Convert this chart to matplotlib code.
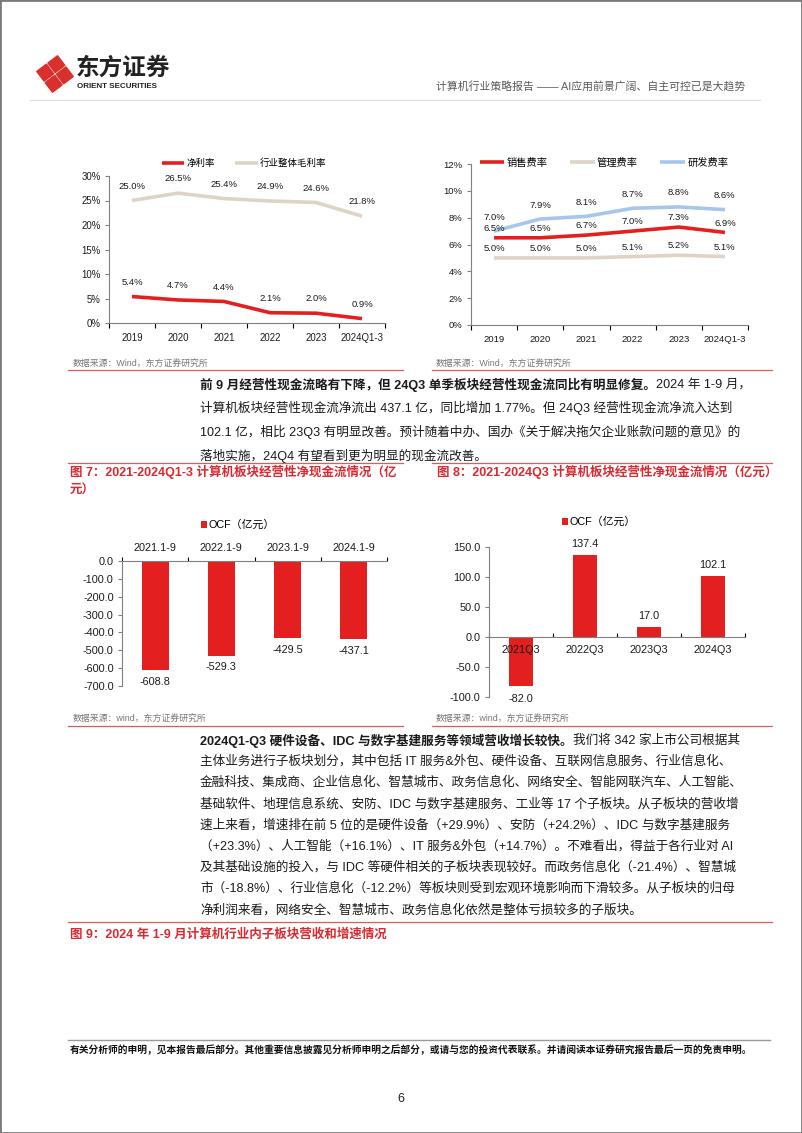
import numpy as np
import matplotlib
matplotlib.use('Agg')
import matplotlib.pyplot as plt
from matplotlib.patches import Rectangle, Polygon, Patch
from matplotlib.lines import Line2D

plt.rcParams['font.family'] = ['Liberation Sans', 'Noto Sans CJK SC']

# ---- data ----
years = ['2019', '2020', '2021', '2022', '2023', '2024Q1-3']
net_margin = [5.4, 4.7, 4.4, 2.1, 2.0, 0.9]
gross_margin = [25.0, 26.5, 25.4, 24.9, 24.6, 21.8]
sales_rate = [6.5, 6.5, 6.7, 7.0, 7.3, 6.9]
admin_rate = [5.0, 5.0, 5.0, 5.1, 5.2, 5.1]
rd_rate = [7.0, 7.9, 8.1, 8.7, 8.8, 8.6]

ocf_periods = ['2021.1-9', '2022.1-9', '2023.1-9', '2024.1-9']
ocf_ytd = [-608.8, -529.3, -429.5, -437.1]
ocf_quarters = ['2021Q3', '2022Q3', '2023Q3', '2024Q3']
ocf_q3 = [-82.0, 137.4, 17.0, 102.1]

W, H = 802, 1133
RED = '#E3201F'
BEIGE = '#DDD4C6'
BLUE = '#A8C6EC'
CAP_RED = '#D82A30'
RULE_RED = '#E05A5E'
AX_GRAY = '#808080'
TXT = '#1a1a1a'

fig = plt.figure(figsize=(W / 100, H / 100), dpi=100)


def rect(x, y, w, h):
    return [x / W, 1 - (y + h) / H, w / W, h / H]


def fx(x):
    return x / W


def fy(y):
    return 1 - y / H


def hline(y, x0, x1, color=RULE_RED, lw=0.9):
    fig.add_artist(Line2D([fx(x0), fx(x1)], [fy(y), fy(y)], color=color, lw=lw))


def style_axes(ax):
    for s in ['top', 'right', 'bottom', 'left']:
        ax.spines[s].set_color(AX_GRAY)
        ax.spines[s].set_linewidth(0.8)
    ax.tick_params(colors=AX_GRAY, labelcolor=TXT)


# ---- page frame & header ----
fig.add_artist(Rectangle((0, 0), 1, 1, transform=fig.transFigure, fill=False,
                         edgecolor='#7a7a7a', lw=2))

lax = fig.add_axes(rect(36, 55, 38, 38))
lax.set_xlim(-1, 1)
lax.set_ylim(-1, 1)
lax.set_aspect('equal')
lax.axis('off')
ang = np.deg2rad(-8)
rot = np.array([[np.cos(ang), -np.sin(ang)], [np.sin(ang), np.cos(ang)]])
for cx, cy in [(0, 0.52), (0.52, 0), (0, -0.52), (-0.52, 0)]:
    r = 0.44
    pts = np.array([(cx, cy + r), (cx + r, cy), (cx, cy - r), (cx - r, cy)]) @ rot.T
    lax.add_patch(Polygon(pts, closed=True, facecolor='#D9302C', edgecolor='#D9302C',
                          lw=1.2, joinstyle='round'))

fig.text(fx(76), fy(68), '东方证券', fontsize=17, fontweight='bold', color='#222',
         family=['Noto Sans CJK SC'], va='center', ha='left')
fig.text(fx(77), fy(86), 'ORIENT SECURITIES', fontsize=5.8, fontweight='bold', color='#222',
         va='center', ha='left')
fig.text(fx(745), fy(86), '计算机行业策略报告 —— AI应用前景广阔、自主可控已是大趋势',
         fontsize=7.8, color='#5a5a5a', va='center', ha='right')
hline(100, 30, 760, color='#DDDDDD', lw=0.8)


# ---- line charts ----
def line_chart(rect_px, series, ymax, step, leg_xy, leg_size, tick_size):
    ax = fig.add_axes(rect(*rect_px))
    style_axes(ax)
    ax.spines['top'].set_visible(False)
    ax.spines['right'].set_visible(False)
    x = np.arange(len(years))
    for vals, color, name, off in series:
        ax.plot(x, vals, color=color, lw=2.6, label=name, solid_capstyle='butt', clip_on=False)
    for vals, color, name, off in series:
        for xi, v in zip(x, vals):
            ax.annotate(f'{v:.1f}%', (xi, v), xytext=(0, off), textcoords='offset points',
                        ha='center', va='bottom', fontsize=6.8, color=TXT)
    ax.set_xlim(-0.5, len(years) - 0.5)
    ax.set_ylim(0, ymax)
    ax.set_yticks(np.arange(0, ymax + 0.01, step))
    ax.yaxis.set_major_formatter(lambda v, p: f'{v:.0f}%')
    ax.set_xticks(x)
    ax.set_xticklabels(years)
    ax.set_xticks(np.arange(-0.5, len(years)), minor=True)
    ax.tick_params(axis='x', which='major', length=0, pad=7, labelsize=tick_size)
    ax.tick_params(axis='x', which='minor', length=3.5, width=0.8, direction='out')
    ax.tick_params(axis='y', length=3, width=0.8, labelsize=tick_size, pad=3)
    ax.legend(loc='center', bbox_to_anchor=(fx(leg_xy[0]), fy(leg_xy[1])),
              bbox_transform=fig.transFigure, ncol=len(series), frameon=False,
              fontsize=leg_size, handlelength=2.4, handletextpad=0.2, columnspacing=2.2,
              borderaxespad=0, borderpad=0)
    return ax


line_chart((109, 176, 276, 147),
           [(net_margin, RED, '净利率', 7), (gross_margin, BEIGE, '行业整体毛利率', 7)],
           30, 5, (244, 163), 6.8, 6.9)
line_chart((471, 164, 277, 161),
           [(sales_rate, RED, '销售费率', 3.4), (admin_rate, BEIGE, '管理费率', 3.6),
            (rd_rate, BLUE, '研发费率', 6.8)],
           12, 2, (604, 163), 7.4, 6.8)

fig.text(fx(73), fy(363), '数据来源：Wind，东方证券研究所', fontsize=6.4, color='#777', va='center')
fig.text(fx(436), fy(363), '数据来源：Wind，东方证券研究所', fontsize=6.4, color='#777', va='center')
hline(370, 68, 403)
hline(370, 432, 772)

# ---- paragraphs ----
renderer = fig.canvas.get_renderer()


def put_line(x, y, parts, size=9.1):
    for s, bold in parts:
        t = fig.text(fx(x), fy(y), s, fontsize=size, fontweight='bold' if bold else 'normal',
                     va='center_baseline', ha='left', color=TXT)
        x += t.get_window_extent(renderer).width


para1 = [
    [('前 9 月经营性现金流略有下降，但 24Q3 单季板块经营性现金流同比有明显修复。', True),
     ('2024 年 1-9 月，', False)],
    [('计算机板块经营性现金流净流出 437.1 亿，同比增加 1.77%。但 24Q3 经营性现金流净流入达到', False)],
    [('102.1 亿，相比 23Q3 有明显改善。预计随着中办、国办《关于解决拖欠企业账款问题的意见》的', False)],
    [('落地实施，24Q4 有望看到更为明显的现金流改善。', False)],
]
for i, parts in enumerate(para1):
    put_line(200, 383 + i * 23.8, parts)

# ---- captions 7 / 8 ----
hline(463, 68, 403)
hline(463, 432, 772)
fig.text(fx(70), fy(472), '图 7：2021-2024Q1-3 计算机板块经营性净现金流情况（亿', fontsize=9,
         fontweight='bold', color=CAP_RED, va='center')
fig.text(fx(70), fy(491), '元）', fontsize=9, fontweight='bold', color=CAP_RED, va='center')
fig.text(fx(437), fy(472), '图 8：2021-2024Q3 计算机板块经营性净现金流情况（亿元）', fontsize=9,
         fontweight='bold', color=CAP_RED, va='center')


# ---- bar charts ----
def bar_legend(ax, xy):
    ax.legend(handles=[Patch(facecolor=RED, label='OCF（亿元）')], loc='center',
              bbox_to_anchor=(fx(xy[0]), fy(xy[1])), bbox_transform=fig.transFigure,
              frameon=False, fontsize=7.8, handlelength=0.6, handleheight=0.6,
              handletextpad=0.15, borderaxespad=0, borderpad=0)


ax3 = fig.add_axes(rect(122, 561, 265, 125))
style_axes(ax3)
x3 = np.arange(len(ocf_periods))
bars = ax3.bar(x3, ocf_ytd, width=0.41, color=RED)
for b, v in zip(bars, ocf_ytd):
    ax3.annotate(f'{v:.1f}', (b.get_x() + b.get_width() / 2, v), xytext=(0, -5),
                 textcoords='offset points', ha='center', va='top', fontsize=7.8, color=TXT)
ax3.set_xlim(-0.5, len(ocf_periods) - 0.5)
ax3.set_ylim(-700, 0)
ax3.set_yticks(np.arange(-700, 1, 100))
ax3.yaxis.set_major_formatter(lambda v, p: f'{v:.1f}')
ax3.spines['bottom'].set_visible(False)
ax3.spines['right'].set_visible(False)
ax3.xaxis.tick_top()
ax3.set_xticks(x3)
ax3.set_xticklabels(ocf_periods)
ax3.set_xticks(np.arange(-0.5, len(ocf_periods)), minor=True)
ax3.tick_params(axis='x', which='major', length=0, pad=6, labelsize=7.8)
ax3.tick_params(axis='x', which='minor', length=3, width=0.8, direction='out', top=True, bottom=False)
ax3.tick_params(axis='y', length=3, width=0.8, labelsize=7.8, pad=3)
bar_legend(ax3, (238, 525))

ax4 = fig.add_axes(rect(489, 547, 256, 150))
style_axes(ax4)
x4 = np.arange(len(ocf_quarters))
bars = ax4.bar(x4, ocf_q3, width=0.39, color=RED)
for b, v in zip(bars, ocf_q3):
    ax4.annotate(f'{v:.1f}', (b.get_x() + b.get_width() / 2, v),
                 xytext=(0, 4 if v > 0 else -5.5), textcoords='offset points', ha='center',
                 va='bottom' if v > 0 else 'top', fontsize=7.8, color=TXT)
ax4.set_xlim(-0.5, len(ocf_quarters) - 0.5)
ax4.set_ylim(-100, 150)
ax4.set_yticks(np.arange(-100, 151, 50))
ax4.yaxis.set_major_formatter(lambda v, p: f'{v:.1f}')
ax4.spines['top'].set_visible(False)
ax4.spines['right'].set_visible(False)
ax4.spines['bottom'].set_position(('data', 0))
ax4.set_xticks(x4)
ax4.set_xticklabels(ocf_quarters)
ax4.set_xticks(np.arange(-0.5, len(ocf_quarters)), minor=True)
ax4.tick_params(axis='x', which='major', length=0, pad=6, labelsize=7.8)
ax4.tick_params(axis='x', which='minor', length=3, width=0.8, direction='in')
ax4.tick_params(axis='y', length=3, width=0.8, labelsize=7.8, pad=3)
bar_legend(ax4, (599, 522))

fig.text(fx(73), fy(718), '数据来源：wind，东方证券研究所', fontsize=6.4, color='#777', va='center')
fig.text(fx(436), fy(718), '数据来源：wind，东方证券研究所', fontsize=6.4, color='#777', va='center')
hline(726, 68, 403)
hline(726, 432, 772)

para2 = [
    [('2024Q1-Q3 硬件设备、IDC 与数字基建服务等领域营收增长较快。', True),
     ('我们将 342 家上市公司根据其', False)],
    [('主体业务进行子板块划分，其中包括 IT 服务&外包、硬件设备、互联网信息服务、行业信息化、', False)],
    [('金融科技、集成商、企业信息化、智慧城市、政务信息化、网络安全、智能网联汽车、人工智能、', False)],
    [('基础软件、地理信息系统、安防、IDC 与数字基建服务、工业等 17 个子板块。从子板块的营收增', False)],
    [('速上来看，增速排在前 5 位的是硬件设备（+29.9%）、安防（+24.2%）、IDC 与数字基建服务', False)],
    [('（+23.3%）、人工智能（+16.1%）、IT 服务&外包（+14.7%）。不难看出，得益于各行业对 AI', False)],
    [('及其基础设施的投入，与 IDC 等硬件相关的子板块表现较好。而政务信息化（-21.4%）、智慧城', False)],
    [('市（-18.8%）、行业信息化（-12.2%）等板块则受到宏观环境影响而下滑较多。从子板块的归母', False)],
    [('净利润来看，网络安全、智慧城市、政务信息化依然是整体亏损较多的子版块。', False)],
]
for i, parts in enumerate(para2):
    put_line(200, 739 + i * 21.2, parts)

hline(922, 68, 772)
fig.text(fx(70), fy(935), '图 9：2024 年 1-9 月计算机行业内子板块营收和增速情况', fontsize=9,
         fontweight='bold', color=CAP_RED, va='center')

# ---- footer ----
hline(1040, 68, 770, color='#9a9a9a', lw=1)
fig.text(fx(70), fy(1050),
         '有关分析师的申明，见本报告最后部分。其他重要信息披露见分析师申明之后部分，或请与您的投资代表联系。并请阅读本证券研究报告最后一页的免责申明。',
         fontsize=7, fontweight='bold', color='#111', va='center', family=['Noto Sans CJK SC'])
fig.text(fx(401), fy(1099), '6', fontsize=9, color='#222', va='center', ha='center')

fig.savefig('out.png', dpi=100)
